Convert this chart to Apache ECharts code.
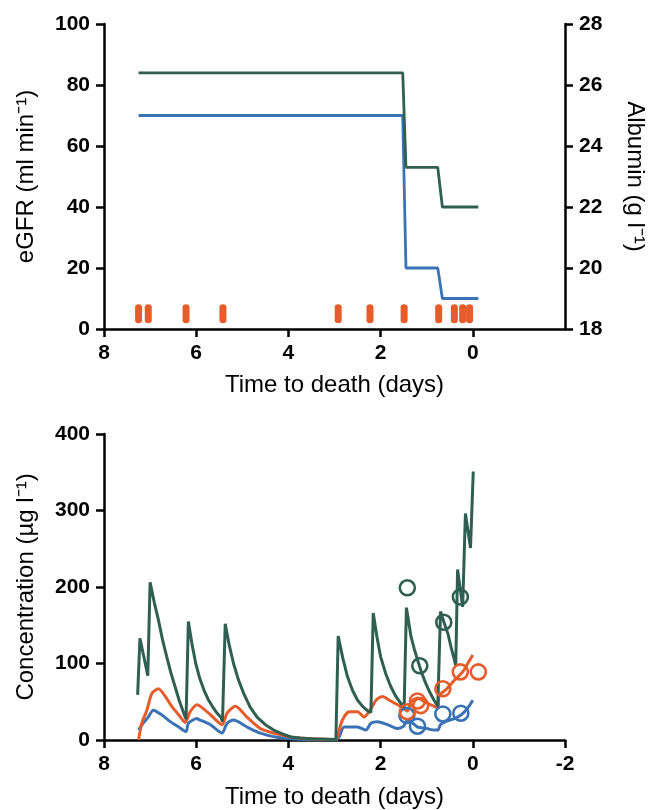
<!DOCTYPE html>
<html>
<head>
<meta charset="utf-8">
<script src="https://cdn.jsdelivr.net/npm/echarts@6/dist/echarts.min.js"></script>
<style>
html,body{margin:0;padding:0;background:#fff;}
#chart{width:652px;height:810px;}
</style>
</head>
<body>
<div id="chart"></div>
<script>
// ---- Top panel data ----
const stepTimes = [7.25, 1.52, 1.45, 0.76, 0.66, -0.12];
const egfrValues = [70, 70, 20, 20, 10, 10];
const albuminValues = [26.4, 26.4, 23.3, 23.3, 22, 22];
const doseTimes = [7.25, 7.04, 6.22, 5.42, 2.92, 2.23, 1.49, 0.74, 0.40, 0.22, 0.07];
const doseMarkerLevel = 5;
const topXTicks = [8, 6, 4, 2, 0];

// ---- Bottom panel data ----
const greenT = [7.27,7.22,7.05,7.00,6.91,6.82,6.73,6.64,6.55,6.46,6.37,6.27,6.22,
  6.17,6.09,6.01,5.92,5.83,5.74,5.65,5.56,5.47,5.43,
  5.37,5.28,5.19,5.08,4.97,4.83,4.68,4.50,4.32,4.13,3.95,3.75,3.50,2.97,
  2.92,2.82,2.72,2.61,2.50,2.39,2.28,2.21,
  2.16,2.08,2.00,1.89,1.78,1.67,1.56,1.49,
  1.44,1.34,1.27,1.20,1.11,1.02,0.93,0.84,0.76,
  0.70,0.62,0.54,0.47,0.40,0.37,
  0.33,0.22,0.16,0.05,-0.01];
const greenV = [59,133,84,206,180,157,131,109,88,70,52,35,27,
  155,125,100,80,65,53,44,36,30,24,
  152,123,100,78,61,43,30,20,13,8,4,2.5,1.5,0.5,
  136,107,83,65,52,44,38,36,
  166,135,109,87,70,57,48,41,
  173,135,119,105,88,74,62,52,44,
  168,153,139,121,105,97,
  223,174,296,251,351];
const orangeT = [7.25,7.18,7.07,6.96,6.82,6.67,6.53,6.38,6.24,6.13,5.98,5.91,5.69,5.44,5.33,5.15,4.90,4.61,4.32,3.95,3.50,2.97,2.94,2.83,2.68,2.50,2.36,2.21,2.10,1.96,1.81,1.63,1.52,1.42,1.34,1.20,1.05,0.91,0.76,0.73,0.58,0.40,0.22,0.11,0.00];
const orangeV = [0,22,39,61,67,57,44,33,23,37,46,44,33,20,35,44,30,15,9,4,1.5,0.5,4,26,37,37,30,41,52,57,52,46,42,38,50,55,50,46,42,58,66,78,89,100,111];
const blueT = [7.25,7.15,7.04,6.93,6.75,6.56,6.38,6.22,6.17,5.98,5.95,5.69,5.44,5.33,5.19,4.90,4.61,4.24,3.95,3.50,2.97,2.90,2.79,2.50,2.32,2.21,2.07,1.85,1.63,1.50,1.42,1.30,1.20,1.00,0.84,0.76,0.70,0.55,0.40,0.25,0.12,0.00];
const blueV = [13,22,30,39,33,24,17,11,22,28,27,20,9,22,26,17,9,3.5,1.5,0.5,0,4,17,17,13,22,24,20,15,18,26,22,17,15,13,13,20,25,28,33,41,52];
const greenObsT = [1.42, 1.15, 0.63, 0.27];
const greenObsV = [199, 97, 154, 187];
const orangeObsT = [1.42, 1.20, 1.13, 0.65, 0.27, -0.12];
const orangeObsV = [37, 51, 45, 67, 89, 89];
const blueObsT = [1.43, 1.20, 0.65, 0.26];
const blueObsV = [32, 18, 34, 35];

const GREEN = '#2f5f50';
const BLUE = '#3a73b5';
const ORANGE = '#e65c2a';
const FONT = 'Liberation Sans, Arial, sans-serif';

const zip = (a, b) => a.map((x, i) => [x, b[i]]);

const axisLineStyle = {show: true, onZero: false, lineStyle: {color: '#000', width: 2.5}};
const tickStyle = {show: true, inside: false, length: 8, lineStyle: {color: '#000', width: 2.5}};
const labelStyle = {color: '#000', fontSize: 21, fontWeight: 'bold', fontFamily: FONT};
const nameStyle = {color: '#000', fontSize: 24, fontFamily: FONT};

const chart = echarts.init(document.getElementById('chart'), null, {renderer: 'canvas'});

const pill = 'path://M0,3 A3,3 0 0 1 6,3 L6,16 A3,3 0 0 1 0,16 Z';
const ring = c => ({color: 'rgba(0,0,0,0)', borderColor: c, borderWidth: 2.6, opacity: 1});

chart.setOption({
  animation: false,
  backgroundColor: '#fff',
  grid: [
    {left: 104, right: 87, top: 24, height: 305, containLabel: false, outerBoundsMode: 'none'},
    {left: 104, right: 87, top: 434, height: 306, containLabel: false, outerBoundsMode: 'none'}
  ],
  xAxis: [
    {
      gridIndex: 0, type: 'value', min: -2, max: 8, interval: 2, inverse: true,
      axisLine: axisLineStyle,
      axisTick: Object.assign({}, tickStyle, {customValues: topXTicks}),
      axisLabel: Object.assign({}, labelStyle, {margin: 14, customValues: topXTicks,
        formatter: v => (v < 0 ? '' : String(v))}),
      splitLine: {show: false},
      name: 'Time to death (days)', nameLocation: 'middle', nameGap: 44, nameTextStyle: nameStyle
    },
    {
      gridIndex: 1, type: 'value', min: -2, max: 8, interval: 2, inverse: true,
      axisLine: axisLineStyle, axisTick: tickStyle,
      axisLabel: Object.assign({}, labelStyle, {margin: 14, showMinLabel: true, showMaxLabel: true}),
      splitLine: {show: false},
      name: 'Time to death (days)', nameLocation: 'middle', nameGap: 45, nameTextStyle: nameStyle
    }
  ],
  yAxis: [
    {
      gridIndex: 0, type: 'value', min: 0, max: 100, interval: 20, position: 'left',
      axisLine: axisLineStyle, axisTick: tickStyle,
      axisLabel: Object.assign({}, labelStyle, {margin: 14}),
      splitLine: {show: false},
      name: 'eGFR (ml min⁻¹)', nameLocation: 'middle', nameGap: 66, nameRotate: 90, nameTextStyle: nameStyle
    },
    {
      gridIndex: 0, type: 'value', min: 18, max: 28, interval: 2, position: 'right',
      axisLine: axisLineStyle, axisTick: tickStyle,
      axisLabel: Object.assign({}, labelStyle, {margin: 14}),
      splitLine: {show: false},
      name: 'Albumin (g l⁻¹)', nameLocation: 'middle', nameGap: 58, nameRotate: -90, nameTextStyle: nameStyle
    },
    {
      gridIndex: 1, type: 'value', min: 0, max: 400, interval: 100, position: 'left',
      axisLine: axisLineStyle, axisTick: tickStyle,
      axisLabel: Object.assign({}, labelStyle, {margin: 14}),
      splitLine: {show: false},
      name: 'Concentration (µg l⁻¹)', nameLocation: 'middle', nameGap: 66, nameRotate: 90, nameTextStyle: nameStyle
    }
  ],
  series: [
    {type: 'line', xAxisIndex: 0, yAxisIndex: 0, data: zip(stepTimes, egfrValues),
      showSymbol: false, lineStyle: {color: BLUE, width: 2.8}, z: 3},
    {type: 'line', xAxisIndex: 0, yAxisIndex: 1, data: zip(stepTimes, albuminValues),
      showSymbol: false, lineStyle: {color: GREEN, width: 2.8}, z: 3},
    {type: 'scatter', xAxisIndex: 0, yAxisIndex: 0, data: doseTimes.map(t => [t, doseMarkerLevel]),
      symbol: pill, symbolSize: [7, 19], itemStyle: {color: ORANGE, opacity: 1}, z: 4},

    {type: 'line', xAxisIndex: 1, yAxisIndex: 2, data: zip(blueT, blueV), smooth: 0.25,
      showSymbol: false, lineStyle: {color: BLUE, width: 3}, z: 3},
    {type: 'line', xAxisIndex: 1, yAxisIndex: 2, data: zip(orangeT, orangeV), smooth: 0.25,
      showSymbol: false, lineStyle: {color: ORANGE, width: 3}, z: 3},
    {type: 'line', xAxisIndex: 1, yAxisIndex: 2, data: zip(greenT, greenV),
      showSymbol: false, lineStyle: {color: GREEN, width: 3}, z: 3},
    {type: 'scatter', xAxisIndex: 1, yAxisIndex: 2, data: zip(blueObsT, blueObsV),
      symbol: 'circle', symbolSize: 15, itemStyle: ring(BLUE), z: 5},
    {type: 'scatter', xAxisIndex: 1, yAxisIndex: 2, data: zip(orangeObsT, orangeObsV),
      symbol: 'circle', symbolSize: 15, itemStyle: ring(ORANGE), z: 5},
    {type: 'scatter', xAxisIndex: 1, yAxisIndex: 2, data: zip(greenObsT, greenObsV),
      symbol: 'circle', symbolSize: 15, itemStyle: ring(GREEN), z: 5}
  ]
});
</script>
</body>
</html>
